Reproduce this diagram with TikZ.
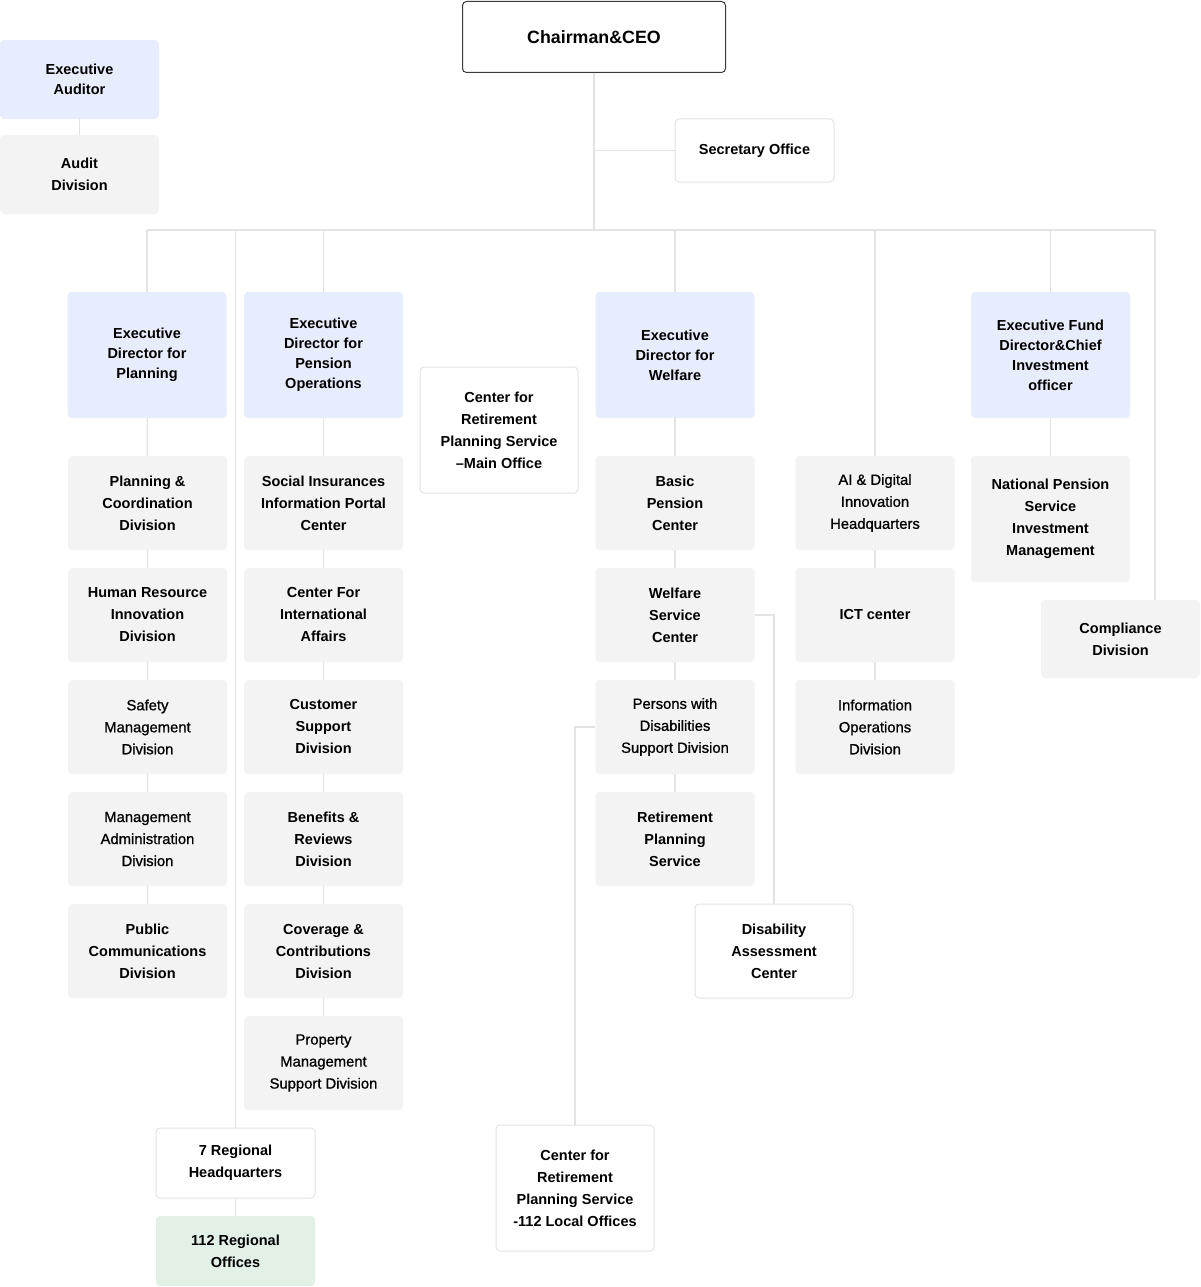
\documentclass[tikz,border=0pt]{standalone}
\usepackage{fontspec}
\setmainfont{Liberation Sans}
\newfontfamily\mediumface{Liberation Sans}[FakeBold=0.9]
\usepackage{tikz}
\usetikzlibrary{positioning, calc}
\definecolor{execblue}{HTML}{E8EDFD}
\definecolor{unitgray}{HTML}{F3F3F3}
\definecolor{officegreen}{HTML}{E2F0E6}
\definecolor{linegray}{HTML}{E3E3E3}
\definecolor{ceoframe}{HTML}{3A3A3A}

\begin{document}
\begin{tikzpicture}[x=1pt, y=-1pt,
    unit/.style={rectangle, rounded corners=4pt, fill=#1, minimum width=159pt, minimum height=94pt, inner sep=2pt, align=center, font=\fontsize{14.5}{22}\selectfont\bfseries},
    unit/.default=unitgray,
    execbox/.style={unit=execblue, minimum height=126pt, font=\fontsize{14.5}{20}\selectfont\bfseries},
    framed/.style={unit=white, draw=linegray, line width=1pt},
    lite/.style={font=\fontsize{14.8}{22}\selectfont\mediumface},
    link/.style={draw=linegray, line width=1.3pt}
]
\useasboundingbox (0,0) rectangle (1200,1287);

% top
\node[unit=white, draw=ceoframe, line width=1pt, minimum width=263pt, minimum height=71pt, font=\fontsize{17.8}{20}\selectfont\bfseries] (ceo) at (594,37) {Chairman\&CEO};
\node[framed, minimum height=63pt] (sec) at (754.5,150.5) {Secretary Office};
\node[unit=execblue, minimum height=79pt, font=\fontsize{14.5}{20}\selectfont\bfseries] (exaud) at (79.5,79.5) {Executive\\Auditor};
\node[unit, minimum height=79pt] (auddiv) at (79.5,174.5) {Audit\\Division};

% executive directors
\node[execbox] (edplan) at (147,355) {Executive\\Director for\\Planning};
\node[execbox] (edpens) at (323.5,355) {Executive\\Director for\\Pension\\Operations};
\node[execbox] (edwelf) at (675,355) {Executive\\Director for\\Welfare};
\node[execbox] (edfund) at (1050.5,355) {Executive Fund\\Director\&Chief\\Investment\\officer};
\node[framed, minimum width=158pt, minimum height=126pt] (cmain) at (499,430) {Center for\\Retirement\\Planning Service\\–Main Office};

% planning column
\node[unit] (pcd) at (147.5,503) {Planning \&\\Coordination\\Division};
\node[unit] (hrd) at (147.5,615) {Human Resource\\Innovation\\Division};
\node[unit, lite] (smd) at (147.5,727) {Safety\\Management\\Division};
\node[unit, lite] (mad) at (147.5,839) {Management\\Administration\\Division};
\node[unit] (pubd) at (147.5,951) {Public\\Communications\\Division};

% pension column
\node[unit] (sip) at (323.5,503) {Social Insurances\\Information Portal\\Center};
\node[unit] (cia) at (323.5,615) {Center For\\International\\Affairs};
\node[unit] (csd) at (323.5,727) {Customer\\Support\\Division};
\node[unit] (brd) at (323.5,839) {Benefits \&\\Reviews\\Division};
\node[unit] (ccd) at (323.5,951) {Coverage \&\\Contributions\\Division};
\node[unit, lite] (pmd) at (323.5,1063) {Property\\Management\\Support Division};

% welfare column
\node[unit] (bpc) at (675,503) {Basic\\Pension\\Center};
\node[unit] (wsc) at (675,615) {Welfare\\Service\\Center};
\node[unit, lite] (pwd) at (675,727) {Persons with\\Disabilities\\Support Division};
\node[unit] (rps) at (675,839) {Retirement\\Planning\\Service};
\node[framed, minimum width=158pt] (dac) at (774,951) {Disability\\Assessment\\Center};
\node[framed, minimum width=158pt, minimum height=126pt] (clo) at (575,1188) {Center for\\Retirement\\Planning Service\\-112 Local Offices};

% digital column
\node[unit, lite] (aid) at (875,503) {AI \& Digital\\Innovation\\Headquarters};
\node[unit] (ict) at (875,615) {ICT center};
\node[unit, lite] (iod) at (875,727) {Information\\Operations\\Division};

% fund column
\node[unit, minimum height=126pt] (npsim) at (1050.5,519) {National Pension\\Service\\Investment\\Management};
\node[unit, minimum height=78pt] (comp) at (1120.5,639) {Compliance\\Division};

% regional
\node[framed, minimum height=70pt] (rhq) at (235.5,1163) {7 Regional\\Headquarters};
\node[unit=officegreen, minimum height=70pt] (roff) at (235.5,1251) {112 Regional\\Offices};

% connectors
\coordinate (bus) at (594,230);
\coordinate (cj) at (1155,230);
\draw[link] (ceo) -- (bus);
\draw[link] (ceo |- sec) -- (sec.west);
\draw[link] (edplan |- bus) -- (cj) -- (cj |- comp.north);
\foreach \n in {edplan, edpens, edwelf, edfund, aid, rhq}
    \draw[link] (\n |- bus) -- (\n.north);
\draw[link] (exaud) -- (auddiv);
\draw[link] (edplan) -- (pcd) -- (hrd) -- (smd) -- (mad) -- (pubd);
\draw[link] (edpens) -- (sip) -- (cia) -- (csd) -- (brd) -- (ccd) -- (pmd);
\draw[link] (edwelf) -- (bpc) -- (wsc) -- (pwd) -- (rps);
\draw[link] (aid) -- (ict) -- (iod);
\draw[link] (edfund) -- (npsim);
\draw[link] (rhq) -- (roff);
\draw[link] (wsc.east) -- (dac |- wsc) -- (dac.north);
\draw[link] (pwd.west) -- (clo |- pwd) -- (clo.north);

\end{tikzpicture}
\end{document}
